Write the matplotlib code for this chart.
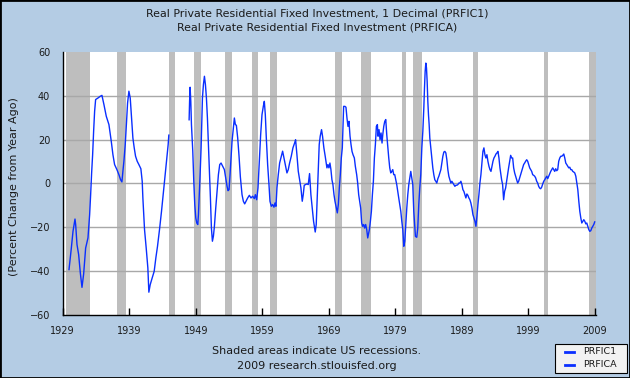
import numpy as np
import matplotlib
matplotlib.use('Agg')
import matplotlib.pyplot as plt
from matplotlib.patches import Rectangle
from matplotlib.lines import Line2D

# annual series (PRFICA), percent change from year ago
prfica_years = [1929.95, 1930.3, 1930.55, 1930.85, 1930.95, 1931.15, 1931.4, 1931.65, 1931.9,
                1932.15, 1932.45, 1932.8, 1933.05, 1933.2, 1933.35, 1933.5, 1933.65, 1933.8,
                1933.95, 1934.3, 1934.65, 1934.9, 1935.2, 1935.55, 1935.95, 1936.3, 1936.55,
                1936.8, 1937.15, 1937.45, 1937.7, 1937.9, 1938.05, 1938.2, 1938.4, 1938.6,
                1938.75, 1938.95, 1939.15, 1939.35, 1939.55, 1939.75, 1939.95, 1940.2, 1940.45,
                1940.75, 1940.95, 1941.05, 1941.3, 1941.55, 1941.8, 1941.95, 1942.15, 1942.45,
                1942.75, 1943.0, 1943.25, 1943.55, 1943.85, 1944.15, 1944.4, 1944.65, 1944.85,
                1944.95]
prfica_vals = [-39.2, -29.4, -21.8, -16.2, -18.7, -27.8, -32.4, -40.7, -47.3,
               -41.2, -29.4, -24.8, -14.2, -5.1, 4.8, 13.1, 23.8, 32.9,
               38.2, 38.9, 39.7, 40.1, 35.9, 30.6, 26.8, 19.2, 13.1,
               8.6, 6.3, 4.0, 1.7, 0.7, 5.6, 10.1, 17.7, 28.3,
               36.6, 42.0, 38.9, 29.8, 20.7, 16.2, 12.4, 10.1, 8.6,
               6.7, 1.0, -6.6, -21.0, -29.4, -38.5, -49.5, -46.1, -43.0,
               -40.0, -33.9, -28.6, -21.0, -12.7, -3.6, 4.0, 11.6, 17.7,
               22.0]

# quarterly series (PRFIC1), percent change from year ago
prfic1_years = [
    1948.0, 1948.07, 1948.15, 1948.25, 1948.35, 1948.55, 1948.7, 1948.85, 1949.0, 1949.15,
    1949.3, 1949.4, 1949.55, 1949.65, 1949.8, 1949.9, 1950.0, 1950.15, 1950.3, 1950.45,
    1950.6, 1950.75, 1950.9, 1951.05, 1951.2, 1951.35, 1951.5, 1951.65, 1951.8, 1952.0,
    1952.2, 1952.4, 1952.6, 1952.8, 1953.05, 1953.3, 1953.5, 1953.7, 1953.85, 1954.0,
    1954.15, 1954.3, 1954.45, 1954.65, 1954.8, 1954.95, 1955.1, 1955.3, 1955.5, 1955.7,
    1955.95, 1956.15, 1956.35, 1956.55, 1956.8, 1957.05, 1957.3, 1957.55, 1957.8, 1957.95,
    1958.15, 1958.35, 1958.55, 1958.75, 1958.95, 1959.15, 1959.3, 1959.45, 1959.6, 1959.8,
    1960.0, 1960.15, 1960.35, 1960.55, 1960.75, 1960.9, 1961.05, 1961.2, 1961.4, 1961.6,
    1961.85, 1962.05, 1962.25, 1962.45, 1962.7, 1962.9, 1963.1, 1963.35, 1963.6, 1963.85,
    1964.0, 1964.2, 1964.4, 1964.6, 1964.8, 1965.0, 1965.15, 1965.3, 1965.5, 1965.7,
    1965.9, 1966.1, 1966.3, 1966.5, 1966.7, 1966.95, 1967.1, 1967.25, 1967.4, 1967.55,
    1967.7, 1967.9, 1968.05, 1968.25, 1968.45, 1968.71, 1968.86, 1969.01, 1969.16, 1969.31,
    1969.46, 1969.61, 1969.77, 1969.92, 1970.12, 1970.27, 1970.42, 1970.57, 1970.72, 1970.87,
    1971.02, 1971.12, 1971.22, 1971.42, 1971.57, 1971.72, 1971.87, 1972.02, 1972.18, 1972.33,
    1972.48, 1972.63, 1972.83, 1972.98, 1973.18, 1973.33, 1973.48, 1973.63, 1973.78, 1973.93,
    1974.08, 1974.23, 1974.38, 1974.53, 1974.69, 1974.84, 1974.94, 1975.09, 1975.24, 1975.39,
    1975.54, 1975.69, 1975.84, 1975.99, 1976.14, 1976.29, 1976.39, 1976.54, 1976.69, 1976.84,
    1976.99, 1977.1, 1977.25, 1977.4, 1977.55, 1977.7, 1977.85, 1978.0, 1978.15, 1978.3,
    1978.45, 1978.6, 1978.75, 1978.9, 1979.05, 1979.2, 1979.35, 1979.5, 1979.66, 1979.81,
    1979.96, 1980.11, 1980.26, 1980.41, 1980.56, 1980.71, 1980.86, 1981.01, 1981.16, 1981.31,
    1981.46, 1981.61, 1981.76, 1982.01, 1982.21, 1982.36, 1982.51, 1982.66, 1982.81, 1982.97,
    1983.12, 1983.27, 1983.37, 1983.47, 1983.57, 1983.67, 1983.77, 1983.87, 1983.97, 1984.07,
    1984.17, 1984.32, 1984.47, 1984.62, 1984.77, 1984.92, 1985.07, 1985.22, 1985.38, 1985.53,
    1985.68, 1985.83, 1985.98, 1986.13, 1986.28, 1986.43, 1986.58, 1986.73, 1986.88, 1987.03,
    1987.18, 1987.33, 1987.48, 1987.63, 1987.78, 1987.94, 1988.09, 1988.24, 1988.39, 1988.54,
    1988.69, 1988.84, 1988.99, 1989.14, 1989.29, 1989.44, 1989.59, 1989.74, 1989.89, 1990.04,
    1990.19, 1990.34, 1990.5, 1990.65, 1990.8, 1990.95, 1991.1, 1991.25, 1991.4, 1991.55,
    1991.7, 1991.85, 1992.0, 1992.15, 1992.3, 1992.45, 1992.6, 1992.75, 1992.9, 1993.06,
    1993.21, 1993.36, 1993.51, 1993.66, 1993.81, 1993.96, 1994.11, 1994.26, 1994.41, 1994.56,
    1994.71, 1994.86, 1994.96, 1995.11, 1995.26, 1995.41, 1995.56, 1995.71, 1995.86, 1996.01,
    1996.17, 1996.32, 1996.47, 1996.62, 1996.77, 1996.92, 1997.07, 1997.22, 1997.37, 1997.52,
    1997.67, 1997.82, 1997.97, 1998.12, 1998.27, 1998.42, 1998.57, 1998.73, 1998.88, 1999.03,
    1999.18, 1999.33, 1999.48, 1999.63, 1999.78, 1999.93, 2000.08, 2000.23, 2000.38, 2000.53,
    2000.68, 2000.83, 2000.98, 2001.14, 2001.29, 2001.44, 2001.59, 2001.74, 2001.89, 2002.04,
    2002.19, 2002.34, 2002.49, 2002.64, 2002.79, 2002.94, 2003.09, 2003.24, 2003.39, 2003.54,
    2003.7, 2003.85, 2004.0, 2004.15, 2004.3, 2004.45, 2004.6, 2004.75, 2004.9, 2005.05,
    2005.2, 2005.35, 2005.5, 2005.65, 2005.8, 2005.95, 2006.11, 2006.26, 2006.41, 2006.56,
    2006.71, 2006.86, 2007.01, 2007.16, 2007.31, 2007.46, 2007.61, 2007.76, 2007.91, 2008.06,
    2008.21, 2008.36, 2008.51, 2008.66, 2008.81, 2008.95]
prfic1_vals = [
    29.0, 37.4, 43.8, 37.4, 26.8, 14.7, 1.0, -9.6, -15.7, -18.0,
    -18.7, -14.2, -3.6, 4.0, 16.2, 26.8, 38.9, 45.0, 48.8, 45.0,
    38.9, 29.8, 17.7, 5.6, -6.6, -20.3, -26.3, -24.0, -19.5, -11.2,
    -3.6, 4.0, 8.6, 9.3, 7.8, 6.3, 2.5, -1.3, -3.3, -2.8,
    4.0, 11.6, 19.2, 25.3, 29.8, 26.8, 26.5, 20.7, 12.5, 3.0,
    -5.1, -8.1, -9.3, -8.1, -6.6, -5.4, -6.6, -5.8, -6.9, -5.1,
    -7.4, -2.0, 10.1, 22.2, 31.3, 35.1, 37.4, 31.3, 20.7, 8.6,
    -0.5, -8.1, -10.4, -9.6, -10.8, -8.9, -10.4, -2.0, 4.0, 9.3,
    12.4, 14.7, 11.6, 8.6, 4.8, 6.3, 9.3, 12.4, 16.2, 18.4,
    19.9, 13.1, 5.6, 1.7, -2.0, -8.1, -5.1, -0.8, -0.5, -0.2,
    -0.5, 4.5, -5.1, -11.2, -17.2, -22.1, -18.7, -6.6, 5.6, 17.7,
    21.5, 24.5, 21.5, 16.2, 12.4, 7.1, 8.6, 7.1, 9.3, 6.3,
    1.7, -0.5, -5.1, -8.1, -11.2, -13.4, -9.6, -2.1, 4.0, 11.6,
    16.2, 25.3, 35.1, 35.1, 34.7, 29.8, 26.0, 28.3, 21.5, 17.7,
    14.6, 13.1, 11.6, 7.8, 4.0, 0.2, -5.1, -8.1, -11.2, -18.0,
    -19.5, -18.7, -20.3, -18.7, -21.0, -24.8, -23.3, -21.0, -17.2, -12.7,
    -5.1, 1.0, 11.6, 17.7, 26.0, 26.8, 21.5, 24.5, 19.9, 23.0,
    18.4, 22.2, 26.0, 28.3, 29.1, 22.2, 16.9, 11.6, 7.1, 4.8,
    5.5, 6.3, 4.0, 4.0, 1.7, -0.5, -3.6, -6.6, -9.6, -12.7,
    -17.2, -21.0, -28.6, -26.3, -18.7, -11.2, -5.1, -0.5, 2.5, 5.5,
    2.5, -0.5, -12.7, -24.1, -24.5, -20.3, -9.6, -2.1, 4.0, 16.2,
    23.7, 34.4, 43.5, 51.0, 54.8, 52.6, 46.5, 37.4, 31.3, 26.8,
    20.7, 16.2, 11.6, 7.1, 4.0, 1.7, 1.0, 0.2, 2.2, 3.3,
    4.8, 6.3, 9.3, 12.4, 14.3, 14.6, 13.9, 10.8, 6.3, 3.3,
    1.7, 0.2, 1.0, 0.2, -0.5, -1.3, -0.8, -0.8, -0.5, 0.2,
    0.2, 1.0, -0.5, -2.8, -3.6, -5.1, -6.6, -4.8, -5.4, -6.6,
    -7.4, -8.9, -11.2, -14.2, -15.7, -17.2, -19.5, -15.0, -9.6, -5.1,
    0.2, 4.0, 9.3, 14.6, 16.2, 13.1, 11.6, 13.1, 10.1, 7.8,
    6.3, 5.5, 7.8, 10.1, 11.6, 12.4, 13.4, 13.9, 14.6, 11.6,
    7.1, 4.0, 1.7, -0.5, -7.4, -3.6, -2.1, 1.0, 4.0, 7.1,
    10.1, 12.8, 11.6, 11.6, 7.1, 4.8, 3.3, 1.7, 0.2, 1.0,
    2.5, 4.0, 5.5, 7.1, 8.6, 9.3, 10.1, 10.8, 10.1, 8.6,
    7.1, 6.3, 5.5, 4.0, 3.7, 3.3, 2.5, 1.0, 0.2, -1.3,
    -2.1, -2.4, -1.7, -0.2, 1.0, 1.7, 2.5, 3.3, 2.2, 3.3,
    4.3, 5.5, 6.3, 7.1, 6.3, 5.5, 6.7, 5.8, 6.3, 10.1,
    11.6, 12.4, 12.4, 12.8, 13.4, 11.6, 9.3, 8.6, 7.8, 7.1,
    7.4, 6.3, 6.3, 5.5, 5.2, 4.8, 3.3, 0.2, -2.8, -8.1,
    -12.7, -15.7, -18.0, -17.2, -16.5, -17.2, -18.4, -18.0, -19.5, -21.0,
    -21.8, -21.5, -20.3, -19.5, -18.7, -17.5]

# recession periods (start, end)
rec_start = [1929.45, 1937.2, 1944.97, 1948.75, 1953.4, 1957.5, 1960.2, 1969.95, 1973.88,
             1980.05, 1981.6, 1990.6, 2001.3, 2008.05]
rec_end = [1933.17, 1938.45, 1945.82, 1949.75, 1954.4, 1958.3, 1961.18, 1970.97, 1975.34,
           1980.6, 1983.05, 1991.35, 2002.0, 2009.3]

xtick_years = [1929, 1939, 1949, 1959, 1969, 1979, 1989, 1999, 2009]
ytick_vals = [-60, -40, -20, 0, 20, 40, 60]
legend_labels = ['PRFIC1', 'PRFICA']

bg = '#B4CCE4'
line_col = '#0A2FFF'
txt_col = '#1a1a1a'

fig = plt.figure(figsize=(6.3, 3.78), dpi=100, facecolor=bg)
ax = fig.add_axes([0.0995, 0.166, 0.8466, 0.6973])
ax.set_facecolor('white')

for s, e in zip(rec_start, rec_end):
    ax.axvspan(s, e, color='#BEBEBE', lw=0, zorder=1)

for v in [-40, -20, 0, 20, 40]:
    ax.axhline(v, color='#A8A8A8', lw=1.0, zorder=2)

ax.plot(prfica_years, prfica_vals, color=line_col, lw=1.0, zorder=3)
ax.plot(prfic1_years, prfic1_vals, color=line_col, lw=1.0, zorder=3)

ax.set_xlim(1929, 2009.15)
ax.set_ylim(-60, 60)
ax.set_xticks(xtick_years)
ax.set_xticklabels([str(y) for y in xtick_years])
ax.set_yticks(ytick_vals)
ax.tick_params(axis='x', direction='in', length=5, width=1, pad=8,
               labelsize=7, labelcolor=txt_col)
ax.tick_params(axis='y', length=0, pad=9, labelsize=7, labelcolor=txt_col)
for sp in ['top', 'right']:
    ax.spines[sp].set_visible(False)
for sp in ['left', 'bottom']:
    ax.spines[sp].set_color('black')
    ax.spines[sp].set_linewidth(1.0)
    ax.spines[sp].set_zorder(4)

fig.text(317 / 630, 1 - 13 / 378, 'Real Private Residential Fixed Investment, 1 Decimal (PRFIC1)',
         ha='center', va='center', fontsize=7.9, color=txt_col)
fig.text(317 / 630, 1 - 28 / 378, 'Real Private Residential Fixed Investment (PRFICA)',
         ha='center', va='center', fontsize=7.9, color=txt_col)
fig.text(14 / 630, 1 - 187 / 378, '(Percent Change from Year Ago)', rotation=90,
         ha='center', va='center', fontsize=8, color=txt_col)
fig.text(317 / 630, 1 - 351 / 378, 'Shaded areas indicate US recessions.',
         ha='center', va='center', fontsize=8, color=txt_col)
fig.text(317 / 630, 1 - 366 / 378, '2009 research.stlouisfed.org',
         ha='center', va='center', fontsize=8, color=txt_col)

# legend box drawn by hand to match the wide FRED legend
fig.patches.append(Rectangle((555 / 630, 1 - 373 / 378), 72 / 630, 29 / 378,
                             transform=fig.transFigure, facecolor='#F2F2F2',
                             edgecolor='black', lw=0.8))
for i, lab in enumerate(legend_labels):
    yy = 1 - (351.5 + 13 * i) / 378
    fig.lines.append(Line2D([564.5 / 630, 574 / 630], [yy, yy], transform=fig.transFigure,
                            color=line_col, lw=2))
    fig.text(583 / 630, yy, lab, ha='left', va='center', fontsize=6.8, color=txt_col)

fig.patches.append(Rectangle((0, 0), 1, 1, transform=fig.transFigure, fill=False,
                             edgecolor='black', lw=2))

plt.savefig('out.png', dpi=100, facecolor=bg)
